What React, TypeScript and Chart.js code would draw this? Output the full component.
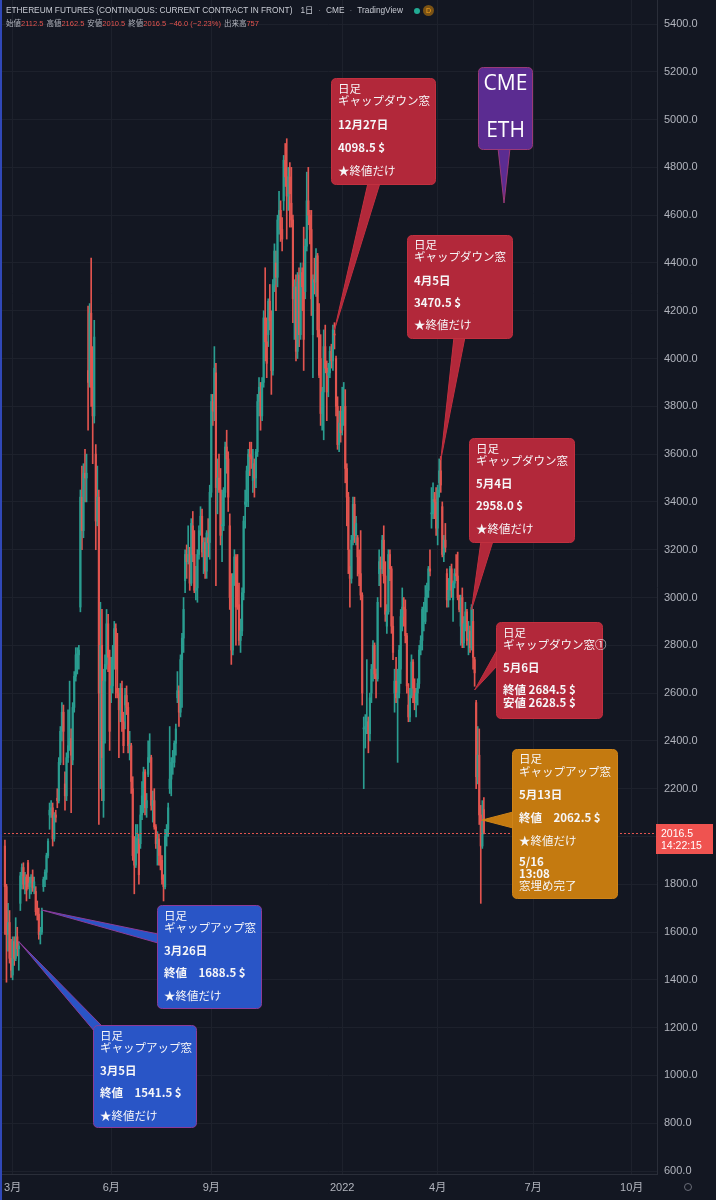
import React, { useEffect, useRef } from "react";
import { Chart, registerables } from "chart.js";

Chart.register(...registerables);

// ---- daily candles [open, high, low, close] per month (CME ETH front month) ----
const feb21 = [[1960,1985,1590,1790],[1790,1800,1390,1590],[1590,1720,1520,1640],[1640,1690,1470,1490],[1490,1570,1410,1440]];
const mar21 = [
  [1420,1580,1400,1560],[1560,1580,1460,1490],[1490,1660,1480,1580],[1580,1620,1500,1530],[1530,1560,1440,1541.5],
  [1720,1850,1690,1835],[1835,1885,1780,1870],[1870,1890,1780,1800],[1800,1850,1760,1830],[1830,1840,1730,1775],
  [1890,1900,1780,1790],[1790,1830,1740,1805],[1805,1840,1760,1830],[1830,1860,1770,1785],[1785,1830,1760,1810],
  [1770,1790,1670,1685],[1685,1730,1650,1675],[1675,1700,1570,1590],[1590,1620,1550,1600],[1600,1700,1590,1688.5],
  [1790,1830,1770,1820],[1820,1860,1790,1850],[1850,1930,1820,1920]];
const apr21 = [
  [1920,1990,1910,1980],
  [2090,2140,2030,2110],[2110,2150,2080,2120],[2120,2140,1960,1990],[1990,2100,1980,2090],[2090,2110,2060,2080],
  [2160,2200,2120,2150],[2150,2330,2140,2310],[2310,2460,2300,2440],[2440,2560,2400,2520],[2520,2550,2300,2440],
  [2220,2270,2110,2170],[2170,2350,2150,2330],[2330,2530,2310,2380],[2380,2650,2360,2410],[2410,2450,2100,2340],
  [2320,2560,2300,2540],[2540,2690,2520,2670],[2670,2790,2650,2760],[2760,2790,2680,2760],[2760,2800,2700,2780]];
const may21 = [
  [2960,3450,2940,3420],[3420,3550,3200,3280],[3280,3560,3250,3520],[3520,3620,3400,3500],[3500,3600,3400,3520],
  [3950,4220,3700,3900],[3900,4230,3880,4190],[4190,4420,3800,3880],[3880,4050,3560,3760],[3760,4160,3730,4090],
  [3600,3640,3200,3320],[3320,3550,3300,3420],[3420,3450,2050,2600],[2600,2980,2200,2800],[2800,2950,2150,2330],
  [2150,2700,2080,2650],[2650,2760,2390,2720],[2720,2950,2700,2890],[2890,2930,2690,2750],[2750,2780,2360,2440]];
const jun21 = [
  [2620,2750,2560,2630],[2630,2800,2600,2720],[2720,2900,2700,2870],[2870,2890,2580,2700],
  [2620,2850,2580,2600],[2600,2620,2330,2530],[2530,2640,2480,2620],[2620,2650,2440,2480],[2480,2520,2350,2380],
  [2550,2620,2450,2590],[2590,2630,2510,2540],[2540,2560,2350,2380],[2380,2440,2320,2380],[2380,2390,2180,2230],
  [2200,2250,1900,1920],[1920,2000,1760,1880],[1880,2050,1870,1990],[1990,2050,1930,1990],[1990,2010,1800,1840],
  [1970,2130,1950,2090],[2090,2230,2070,2170],[2170,2290,2100,2270]];
const jul21 = [
  [2270,2280,2090,2120],[2120,2180,2080,2150],
  [2260,2400,2250,2330],[2330,2430,2310,2330],[2330,2340,2110,2130],[2130,2190,2060,2150],
  [2150,2200,2030,2040],[2040,2050,1950,1970],[1970,2020,1880,1990],[1990,2010,1880,1920],[1920,1960,1860,1880],
  [1900,1920,1800,1820],[1820,1840,1730,1790],[1790,2030,1780,2000],[2000,2050,1960,2030],[2030,2140,2000,2120],
  [2200,2460,2180,2240],[2240,2330,2170,2310],[2310,2360,2260,2310],[2310,2400,2290,2390],[2390,2470,2340,2450]];
const aug21 = [
  [2580,2690,2560,2610],[2610,2630,2460,2520],[2520,2760,2500,2740],[2740,2850,2540,2830],[2830,3000,2770,2950],
  [3070,3200,3020,3180],[3180,3220,3080,3150],[3150,3300,3140,3180],[3180,3210,3030,3060],[3060,3330,3050,3310],
  [3300,3360,3150,3180],[3180,3280,3020,3030],[3030,3130,2990,3040],[3040,3200,2980,3180],[3180,3300,3160,3280],
  [3300,3380,3260,3340],[3340,3370,3170,3190],[3190,3250,3100,3230],[3230,3250,3080,3110],[3110,3280,3080,3270],
  [3250,3330,3170,3230],[3230,3470,3160,3440]];
const sep21 = [
  [3440,3850,3420,3820],[3820,3850,3720,3780],[3780,4050,3740,3960],
  [3940,3980,3050,3460],[3460,3580,3350,3500],[3500,3600,3440,3450],[3450,3540,3220,3260],
  [3300,3450,3150,3300],[3300,3460,3280,3440],[3440,3650,3420,3630],[3630,3700,3520,3580],[3580,3610,3360,3420],
  [3300,3350,2950,3000],[3000,3100,2720,2780],[2780,3100,2760,3090],[3090,3200,3050,3170],[3170,3180,2800,2960],
  [3050,3180,2950,2970],[2970,3060,2800,2820],[2820,2910,2770,2860],[2860,3040,2840,3020]];
const oct21 = [
  [3020,3340,2990,3320],
  [3390,3450,3290,3400],[3400,3550,3380,3530],[3530,3620,3380,3600],[3600,3650,3510,3590],[3590,3650,3540,3580],
  [3490,3620,3440,3560],[3560,3580,3420,3500],[3500,3620,3460,3610],[3610,3850,3590,3820],[3820,3920,3760,3880],
  [3860,3900,3700,3760],[3760,3920,3740,3900],[3900,4200,3880,4170],[4170,4380,3990,4070],[4070,4170,3920,3980],
  [4100,4250,4050,4240],[4240,4310,4120,4160],[4160,4200,3850,3950],[3950,4330,3930,4310],[4310,4480,4280,4450]];
const nov21 = [
  [4400,4450,4200,4340],[4340,4600,4300,4580],[4580,4700,4520,4620],[4620,4660,4490,4540],[4540,4590,4450,4500],
  [4660,4850,4620,4830],[4830,4900,4720,4760],[4760,4920,4500,4680],[4680,4800,4620,4760],[4760,4820,4550,4690],
  [4650,4800,4550,4580],[4580,4600,4150,4250],[4250,4330,4080,4300],[4300,4350,3990,4030],[4030,4360,4000,4320],
  [4350,4380,4050,4100],[4100,4400,4080,4360],[4360,4380,4200,4300],[4400,4550,3950,4080],
  [4280,4500,4250,4470],[4470,4780,4450,4660]];
const dec21 = [
  [4660,4800,4560,4600],[4600,4620,4480,4540],[4540,4620,4180,4250],
  [4100,4350,3920,4330],[4330,4420,4270,4320],[4320,4460,4260,4430],[4430,4440,4090,4120],[4120,4230,3920,3930],
  [4000,4100,3720,3770],[3770,3880,3700,3860],[3860,4120,3660,4050],[4050,4140,3940,3960],[3960,3990,3740,3860],
  [3930,3980,3840,3940],[3940,4050,3920,4030],[4030,4060,3960,3990],[3990,4140,3950,4120],
  [4100,4150,4040,4098.5],[4000,4010,3760,3800],[3800,3840,3620,3640],[3640,3780,3610,3730],[3730,3800,3650,3690]];
const jan22 = [
  [3700,3880,3680,3780],[3780,3900,3720,3800],[3800,3870,3480,3540],[3540,3560,3300,3420],[3420,3440,3100,3200],
  [3130,3200,2960,3080],[3080,3260,3060,3240],[3240,3420,3220,3390],[3390,3420,3230,3260],[3260,3340,3220,3310],
  [3250,3260,3090,3170],[3170,3200,3050,3100],[3100,3280,2990,3010],[3010,3020,2550,2600],
  [2450,2500,2200,2450],[2450,2510,2370,2460],[2460,2740,2430,2480],[2480,2500,2350,2430],[2430,2600,2400,2580],
  [2600,2720,2560,2700]];
const feb22 = [
  [2700,2820,2650,2800],[2800,2810,2660,2680],[2680,2700,2580,2660],[2660,3000,2650,2980],
  [3100,3200,3050,3150],[3150,3170,2960,3120],[3120,3260,3100,3240],[3240,3300,3060,3090],[3090,3150,2900,2930],
  [2880,2970,2850,2940],[2940,3200,2930,3180],[3180,3200,3070,3120],[3120,3130,2850,2880],[2880,2920,2740,2770],
  [2600,2700,2520,2650],[2650,2750,2560,2580],[2580,2700,2310,2600],[2600,2800,2580,2780],
  [2700,2950,2640,2920]];
const mar22 = [
  [2920,3040,2860,2960],[2960,3000,2880,2950],[2950,2990,2810,2840],[2840,2850,2600,2630],
  [2550,2640,2480,2500],[2500,2620,2480,2590],[2590,2760,2580,2730],[2730,2740,2560,2620],[2620,2660,2530,2560],
  [2560,2620,2500,2600],[2600,2660,2550,2640],[2640,2800,2620,2780],[2780,2840,2760,2820],[2820,2960,2780,2950],
  [2900,2980,2860,2900],[2900,3050,2890,3000],[3000,3060,2940,3030],[3030,3130,3000,3120],[3120,3200,3090,3110],
  [3350,3460,3290,3350],[3350,3480,3330,3410],[3410,3440,3330,3400],[3400,3460,3260,3290]];
const apr22 = [
  [3290,3470,3220,3450],
  [3480,3580,3420,3530],[3530,3590,3440,3470.5],[3380,3400,3170,3180],[3180,3260,3150,3240],[3240,3310,3190,3210],
  [3100,3120,2960,2990],[2990,3080,2960,3030],[3030,3130,2990,3120],[3120,3140,3000,3030],
  [2990,3070,2900,3060],[3060,3120,3040,3100],[3100,3180,3070,3090],[3090,3190,2990,3000],[3000,3010,2940,2950],
  [2880,3010,2800,3000],[3000,3040,2790,2810],[2810,2920,2790,2890],[2890,2980,2860,2940],[2940,2950,2800,2820]];
const may22 = [
  [2830,2900,2760,2860],[2860,2880,2770,2790],[2790,2970,2780,2958],[2900,2950,2700,2750],[2740,2750,2628.5,2684.5],
  [2560,2570,2200,2250],[2250,2460,2220,2340],[2340,2450,2050,2090],[2090,2130,1720,1960],[1960,2150,1950,2062.5],
  [2112.5,2162.5,2010.5,2016.5]];

const CANDLE_MONTHS: [string, number[][]][] = [
  ["2021-02", feb21], ["2021-03", mar21], ["2021-04", apr21], ["2021-05", may21], ["2021-06", jun21],
  ["2021-07", jul21], ["2021-08", aug21], ["2021-09", sep21], ["2021-10", oct21], ["2021-11", nov21],
  ["2021-12", dec21], ["2022-01", jan22], ["2022-02", feb22], ["2022-03", mar22], ["2022-04", apr22],
  ["2022-05", may22],
];

const HOLIDAYS = ["2021-04-02","2021-05-31","2021-07-05","2021-09-06","2021-11-25","2021-12-24",
  "2022-01-17","2022-02-21","2022-04-15","2022-05-30","2022-06-20","2022-07-04","2022-09-05"];

const X_TICK_DATES = ["2021-03-01","2021-06-01","2021-09-01","2022-01-03","2022-04-01","2022-07-01","2022-10-03"];
const X_TICK_LABELS = ["3月","6月","9月","2022","4月","7月","10月"];
const Y_TICKS = [600,800,1000,1200,1400,1600,1800,2000,2200,2400,2600,2800,3000,3200,3400,3600,3800,4000,4200,4400,4600,4800,5000,5200,5400];

const LAST_PRICE = 2016.5;
const COUNTDOWN = "14:22:15";
const TITLE = "ETHEREUM FUTURES (CONTINUOUS: CURRENT CONTRACT IN FRONT)";
const TITLE_TAIL = ["1日", "CME", "TradingView"];
const OHLC_LABELS = ["始値", "高値", "安値", "終値"];
const OHLC_VALUES = ["2112.5", "2162.5", "2010.5", "2016.5"];
const CHANGE_TEXT = "−46.0 (−2.23%)";
const VOLUME_LABEL = "出来高";
const VOLUME_VALUE = "757";

// ---- styles / layout ----
const BG = "#131722";
const UP = "#2a9d90";
const DOWN = "#e2544f";
const GRID = "#1d212c";
const AXIS_TEXT = "#b2b5be";
const AXIS_LINE = "#2a2e39";
const FONT = '"Liberation Sans", "Noto Sans CJK JP", sans-serif';
const JP = '"Noto Sans CJK JP", sans-serif';
const X_MIN = -3.2;
const X_MAX = X_MIN + 657 / 1.54;
const Y_MAX = 5400 + 24 / (1147 / 4800);
const Y_MIN = 600 - 3 / (1147 / 4800);

const RED = { fill: "#b2283a", edge: "#c2303f" };
const ORANGE = { fill: "#c47a10", edge: "#cf8418" };
const BLUE = { fill: "#2955c6", edge: "#8c3b98" };
const PURPLE = { fill: "#5b2c91", edge: "#9a3a78" };

type Callout = {
  at?: [string, number];
  tipPx?: [number, number];
  box: [number, number, number, number];
  base: [number, number][];
  theme: { fill: string; edge: string };
  lines: [string, number, boolean?][];
  big?: boolean;
};

const CALLOUTS: Callout[] = [
  { at: ["2021-12-27", 4120], box: [331, 78, 104, 106], base: [[368, 183], [380, 183]], theme: RED,
    lines: [["日足", 11], ["ギャップダウン窓", 23], ["12月27日", 47, true], ["4098.5 $", 70, true], ["★終値だけ", 93]] },
  { at: ["2022-04-05", 3575], box: [407, 235, 105, 103], base: [[454, 337], [465, 337]], theme: RED,
    lines: [["日足", 10], ["ギャップダウン窓", 22], ["4月5日", 46, true], ["3470.5 $", 68, true], ["★終値だけ", 90]] },
  { at: ["2022-05-04", 2950], box: [469, 438, 105, 104], base: [[481, 541], [493, 541]], theme: RED,
    lines: [["日足", 11], ["ギャップダウン窓", 23], ["5月4日", 46, true], ["2958.0 $", 68, true], ["★終値だけ", 91]] },
  { at: ["2022-05-06", 2613], box: [496, 622, 106, 96], base: [[497, 650], [497, 666]], theme: RED,
    lines: [["日足", 11], ["ギャップダウン窓①", 23], ["5月6日", 46, true], ["終値 2684.5 $", 68, true], ["安値 2628.5 $", 81, true]] },
  { at: ["2022-05-13", 2069], box: [512, 749, 105, 149], base: [[513, 812], [513, 828]], theme: ORANGE,
    lines: [["日足", 10], ["ギャップアップ窓", 23], ["5月13日", 46, true], ["終値　2062.5 $", 69, true], ["★終値だけ", 92],
      ["5/16", 113, true], ["13:08", 125, true], ["窓埋め完了", 137]] },
  { at: ["2021-03-26", 1692], box: [157, 905, 104, 103], base: [[158, 934], [158, 943]], theme: BLUE,
    lines: [["日足", 11], ["ギャップアップ窓", 23], ["3月26日", 46, true], ["終値　1688.5 $", 68, true], ["★終値だけ", 91]] },
  { at: ["2021-03-05", 1560], box: [93, 1025, 103, 102], base: [[95, 1032], [102, 1026]], theme: BLUE,
    lines: [["日足", 11], ["ギャップアップ窓", 23], ["3月5日", 46, true], ["終値　1541.5 $", 68, true], ["★終値だけ", 91]] },
  { tipPx: [504, 203], box: [478, 67, 54, 82], base: [[498, 148], [510, 148]], theme: PURPLE,
    lines: [["CME", 17], ["ETH", 64]], big: true },
];

function buildDays(): string[] {
  const out: string[] = [];
  const d = new Date(Date.UTC(2021, 1, 22));
  const end = Date.UTC(2022, 9, 31);
  while (d.getTime() <= end) {
    const wd = d.getUTCDay();
    const iso = d.toISOString().slice(0, 10);
    if (wd !== 0 && wd !== 6 && !HOLIDAYS.includes(iso)) out.push(iso);
    d.setUTCDate(d.getUTCDate() + 1);
  }
  return out;
}

function roundRect(ctx: CanvasRenderingContext2D, x: number, y: number, w: number, h: number, r: number) {
  ctx.beginPath();
  ctx.moveTo(x + r, y);
  ctx.lineTo(x + w - r, y);
  ctx.quadraticCurveTo(x + w, y, x + w, y + r);
  ctx.lineTo(x + w, y + h - r);
  ctx.quadraticCurveTo(x + w, y + h, x + w - r, y + h);
  ctx.lineTo(x + r, y + h);
  ctx.quadraticCurveTo(x, y + h, x, y + h - r);
  ctx.lineTo(x, y + r);
  ctx.quadraticCurveTo(x, y, x + r, y);
  ctx.closePath();
}

export default function App() {
  const ref = useRef<HTMLCanvasElement>(null);

  useEffect(() => {
    document.body.style.margin = "0";
    document.body.style.background = BG;
    const days = buildDays();
    const dayIndex: Record<string, number> = {};
    days.forEach((d, i) => (dayIndex[d] = i));

    const points: { x: number; c: number[] }[] = [];
    CANDLE_MONTHS.forEach(([key, rows]) => {
      const idx = days.map((d, i) => (d.startsWith(key) ? i : -1)).filter((i) => i >= 0);
      rows.forEach((c, j) => points.push({ x: idx[j], c }));
    });
    const colors = points.map((p) => (p.c[3] >= p.c[0] ? UP : DOWN));
    const tickLabel: Record<number, string> = {};
    X_TICK_DATES.forEach((d, i) => (tickLabel[dayIndex[d]] = X_TICK_LABELS[i]));

    const overlay = {
      id: "overlay",
      afterDatasetsDraw(chart: any) {
        const ctx: CanvasRenderingContext2D = chart.ctx;
        const xs = chart.scales.x;
        const ys = chart.scales.y;
        const area = chart.chartArea;
        ctx.save();
        // last price dashed line
        const py = Math.round(ys.getPixelForValue(LAST_PRICE)) + 0.5;
        ctx.strokeStyle = DOWN;
        ctx.lineWidth = 1;
        ctx.setLineDash([2, 2]);
        ctx.beginPath();
        ctx.moveTo(area.left, py);
        ctx.lineTo(area.right, py);
        ctx.stroke();
        ctx.setLineDash([]);
        // left blue vertical line
        ctx.fillStyle = "#3048b8";
        ctx.fillRect(0, 0, 2, chart.height);

        // callouts
        CALLOUTS.forEach((co) => {
          const [bx, by, bw, bh] = co.box;
          let tx: number, ty: number;
          if (co.at) {
            tx = xs.getPixelForValue(dayIndex[co.at[0]]);
            ty = ys.getPixelForValue(co.at[1]);
          } else {
            [tx, ty] = co.tipPx as [number, number];
          }
          ctx.fillStyle = co.theme.fill;
          ctx.strokeStyle = co.theme.edge;
          ctx.lineWidth = 1;
          ctx.beginPath();
          ctx.moveTo(co.base[0][0], co.base[0][1]);
          ctx.lineTo(tx, ty);
          ctx.lineTo(co.base[1][0], co.base[1][1]);
          ctx.closePath();
          ctx.fill();
          ctx.stroke();
          roundRect(ctx, bx + 0.5, by + 0.5, bw, bh, 5);
          ctx.fill();
          ctx.stroke();
          ctx.fillStyle = "#f6f6f8";
          ctx.textBaseline = "middle";
          co.lines.forEach(([text, dy, bold]) => {
            if (co.big) {
              ctx.font = '21px "Open Sans", sans-serif';
              ctx.fillStyle = "#ffffff";
              ctx.textAlign = "center";
              ctx.fillText(text, bx + bw / 2 + 0.5, by + dy);
            } else {
              ctx.font = (bold ? "bold " : "") + "11.5px " + JP;
              ctx.textAlign = "left";
              ctx.fillText(text, bx + 7, by + dy);
            }
          });
        });

        // price badge
        const bx0 = area.right - 1;
        ctx.fillStyle = "#ef5350";
        ctx.fillRect(bx0, py - 9.5, 57, 30);
        ctx.fillStyle = "#ffffff";
        ctx.font = '10.5px "Liberation Sans", sans-serif';
        ctx.textAlign = "left";
        ctx.textBaseline = "middle";
        ctx.fillText(LAST_PRICE.toFixed(1), bx0 + 5, py + 0.5);
        ctx.fillText(COUNTDOWN, bx0 + 5, py + 13);

        // settings icon
        ctx.strokeStyle = "#6a6d78";
        ctx.lineWidth = 1;
        ctx.beginPath();
        ctx.arc(688, 1187, 3.5, 0, Math.PI * 2);
        ctx.stroke();
        ctx.restore();
      },
    };

    const chart = new Chart(ref.current as HTMLCanvasElement, {
      type: "bar",
      data: {
        datasets: [
          {
            data: points.map((p) => ({ x: p.x, y: [p.c[0], p.c[3]] })) as any,
            backgroundColor: colors,
            barThickness: 1.5,
            minBarLength: 1,
            grouped: false,
          } as any,
          {
            data: points.map((p) => ({ x: p.x, y: [p.c[2], p.c[1]] })) as any,
            backgroundColor: colors,
            barThickness: 1,
            grouped: false,
          } as any,
        ],
      },
      plugins: [overlay],
      options: {
        animation: false,
        responsive: false,
        maintainAspectRatio: false,
        layout: { padding: 0 },
        plugins: { legend: { display: false }, tooltip: { enabled: false } },
        scales: {
          x: {
            type: "linear",
            min: X_MIN,
            max: X_MAX,
            offset: false,
            grid: { color: GRID, drawTicks: false, offset: false },
            border: { color: AXIS_LINE },
            ticks: {
              color: AXIS_TEXT,
              font: { family: FONT, size: 11 },
              padding: 7,
              maxRotation: 0,
              autoSkip: false,
              callback: (v: any) => tickLabel[v as number] ?? "",
            },
            afterBuildTicks: (s: any) => {
              s.ticks = X_TICK_DATES.map((d) => ({ value: dayIndex[d] }));
            },
            afterFit: (s: any) => {
              s.height = 26;
              s.paddingLeft = 0;
              s.paddingRight = 0;
            },
          },
          y: {
            type: "linear",
            position: "right",
            min: Y_MIN,
            max: Y_MAX,
            grid: { color: GRID, drawTicks: false },
            border: { color: AXIS_LINE },
            ticks: {
              color: AXIS_TEXT,
              font: { family: FONT, size: 11 },
              padding: 7,
              callback: (v: any) => Number(v).toFixed(1),
            },
            afterBuildTicks: (s: any) => {
              s.ticks = Y_TICKS.map((v) => ({ value: v }));
            },
            afterFit: (s: any) => {
              s.width = 59;
              s.paddingTop = 0;
              s.paddingBottom = 0;
            },
          },
        },
      } as any,
    });
    return () => chart.destroy();
  }, []);

  const grey = "#b2b5be";
  return (
    <div style={{ position: "relative", width: 716, height: 1200, background: BG, overflow: "hidden" }}>
      <canvas ref={ref} width={716} height={1200} style={{ display: "block", width: 716, height: 1200 }} />
      <div style={{ position: "absolute", left: 6, top: 4, font: `8.3px ${FONT}`, color: "#c9ccd4", whiteSpace: "nowrap", lineHeight: "12px" }}>
        {TITLE}
        <span style={{ marginLeft: 8 }}>{TITLE_TAIL[0]}</span>
        <span style={{ marginLeft: 5, color: "#6a6d78" }}>·</span>
        <span style={{ marginLeft: 5 }}>{TITLE_TAIL[1]}</span>
        <span style={{ marginLeft: 5, color: "#6a6d78" }}>·</span>
        <span style={{ marginLeft: 5 }}>{TITLE_TAIL[2]}</span>
        <span style={{ display: "inline-block", width: 6, height: 6, borderRadius: 3, background: "#22ab94", marginLeft: 11, verticalAlign: "middle" }} />
        <span style={{ display: "inline-block", width: 11, height: 11, borderRadius: 6, background: "#7a5214", color: "#f7a21b", fontSize: 7, lineHeight: "11px", textAlign: "center", marginLeft: 3, verticalAlign: "middle" }}>D</span>
      </div>
      <div style={{ position: "absolute", left: 6, top: 19, font: `7.5px ${FONT}`, color: grey, whiteSpace: "nowrap", lineHeight: "10px" }}>
        {OHLC_LABELS.map((l, i) => (
          <span key={l} style={{ marginRight: 3 }}>
            {l}
            <span style={{ color: DOWN }}>{OHLC_VALUES[i]}</span>
          </span>
        ))}
        <span style={{ color: DOWN, marginRight: 3 }}>{CHANGE_TEXT}</span>
        {VOLUME_LABEL}
        <span style={{ color: DOWN }}>{VOLUME_VALUE}</span>
      </div>
    </div>
  );
}
